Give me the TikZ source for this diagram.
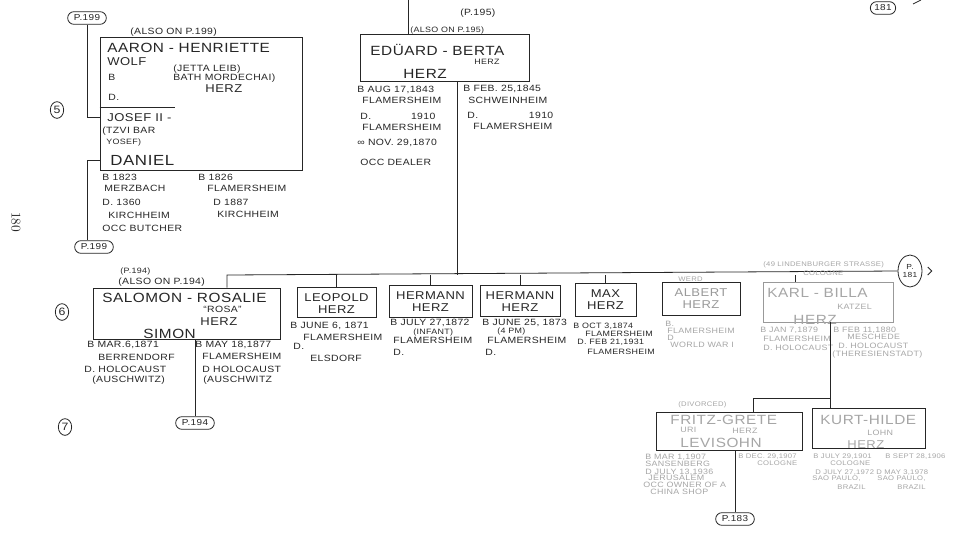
\documentclass[tikz,border=0pt]{standalone}
\usepackage{fontspec}
\newfontfamily\hand{Liberation Sans}[FakeStretch=1.15,LetterSpace=4]
\usetikzlibrary{fit,shapes.misc,shapes.geometric}
\tikzset{
  txt/.style={inner sep=0pt, anchor=west},
  bigg/.style={txt, font=\hand\fontsize{11}{12}\selectfont},
  big/.style={txt, font=\hand\fontsize{10}{11}\selectfont},
  nm/.style={txt, font=\hand\fontsize{8.5}{9}\selectfont},
  dat/.style={txt, font=\hand\fontsize{6.8}{7}\selectfont},
  sm/.style={txt, font=\hand\fontsize{5.8}{6}\selectfont},
  tny/.style={txt, font=\hand\fontsize{5}{5.5}\selectfont},
  famb/.style={draw, inner sep=0pt, line width=0.7pt},
  pref/.style={draw, rounded rectangle, inner xsep=2.5pt, inner ysep=1pt,
    minimum width=34pt, minimum height=9.5pt, font=\hand\fontsize{6.5}{7}\selectfont},
  gen/.style={draw, ellipse, inner sep=0pt, minimum width=10pt,
    minimum height=12.5pt, font=\hand\fontsize{8}{8}\selectfont},
  faint/.style={gray!70},
}
\begin{document}
\begin{tikzpicture}[x=0.75pt, y=-0.75pt, line width=0.6pt, color=black!85]
  \fill[white] (0,0) rectangle (967,533);
  \useasboundingbox (0,0) rectangle (967,533);
  % page number and generations
  \node[font=\fontsize{10}{10}\selectfont, rotate=-90] (pgno) at (16,222) {180};
  \foreach \g/\x/\y in {5/57/110, 6/62/312, 7/65/427}
    \node[gen] (gen\g) at (\x,\y) {\g};

  % generation 5: Aaron - Henriette, Josef II - Daniel
  \node[famb, fit={(100,37) (302,170)}] (aaron) {};
  \coordinate (josl) at (175,107);
  \draw (aaron.west |- josl) -- (josl);
  \node[pref] (p199a) at (87,18) {P.199};
  \node[pref] (p199b) at (94,247) {P.199};
  \coordinate (josj) at (100,117);
  \coordinate (danj) at (100,160);
  \draw (p199a.south) |- (josj);
  \draw (danj) -| (p199b.north -| p199a.south);
  \foreach \x/\y/\s/\t [count=\i] in {130/32/dat/{(ALSO ON P.199)},
      107/48/big/{AARON - HENRIETTE}, 107/62/nm/WOLF, 173/69/dat/{(JETTA LEIB)},
      108/77/dat/B, 173/78/dat/{BATH MORDECHAI)}, 205/89/nm/HERZ, 108/97/dat/D.,
      107/118/nm/{JOSEF II -}, 102/131/dat/{(TZVI BAR}, 106/142/sm/{YOSEF)},
      110/160/bigg/DANIEL,
      102/177/dat/{B 1823}, 104/188/dat/MERZBACH, 102/202/dat/{D. 1360},
      108/215/dat/KIRCHHEIM, 102/228/dat/{OCC BUTCHER},
      198/177/dat/{B 1826}, 207/188/dat/FLAMERSHEIM, 213/202/dat/{D 1887},
      217/214/dat/KIRCHHEIM}
    \node[\s] (aa\i) at (\x,\y) {\t};

  % Eduard - Berta
  \coordinate (topE) at (408,0);
  \node[famb, fit={(360,34) (529,81)}] (eduard) {};
  \draw (topE) -- (eduard.north -| topE);
  \foreach \x/\y/\s/\t [count=\i] in {460/13/dat/{(P.195)},
      410/30/sm/{(ALSO ON P.195)}, 370/50/big/{EDÜARD - BERTA},
      474/62/sm/HERZ, 403/74/big/HERZ,
      357/90/dat/{B AUG 17,1843}, 362/100/dat/FLAMERSHEIM,
      360/116/dat/{D.\hspace{4.4em}1910}, 362/127/dat/FLAMERSHEIM,
      357/143/dat/{∞ NOV. 29,1870}, 360/162/dat/{OCC DEALER},
      463/89/dat/{B FEB. 25,1845}, 468/100/dat/SCHWEINHEIM,
      467/115/dat/{D.\hspace{5.6em}1910}, 473/126/dat/FLAMERSHEIM}
    \node[\s] (ed\i) at (\x,\y) {\t};

  % generation 6: siblings line
  \coordinate (sibE) at (457,275);
  \coordinate (sibL) at (227,275);
  \node[draw, ellipse, inner sep=0pt, minimum width=18pt, minimum height=24pt,
    align=center, font=\hand\fontsize{5.5}{6}\selectfont] (pnext) at (910,271) {P.\\181};
  \draw ([xshift=4pt,yshift=3pt]pnext.east) -- ([xshift=7pt]pnext.east)
    -- ([xshift=4pt,yshift=-3pt]pnext.east);
  \node[pref, minimum width=24pt] (p181) at (883,8) {181};
  \coordinate (nxa) at (913,4);
  \coordinate (nxb) at (921,0);
  \draw (nxa) -- (nxb);
  \draw (eduard.south -| sibE) -- (sibE);

  % Salomon - Rosalie
  \node[famb, fit={(93,288) (280,339)}] (salomon) {};
  \draw (salomon.north -| sibL) -- (sibL) -- (pnext.west);
  \node[pref] (p194b) at (195,423) {P.194};
  \draw (salomon.south -| p194b) -- (p194b.north);
  \foreach \x/\y/\s/\t [count=\i] in {120/271/sm/{(P.194)},
      118/282/dat/{(ALSO ON P.194)}, 102/298/big/{SALOMON - ROSALIE},
      203/309/dat/{“ROSA”}, 200/322/nm/HERZ, 143/334/big/SIMON,
      87/345/dat/{B MAR.6,1871}, 98/357/dat/BERRENDORF,
      84/369/dat/{D. HOLOCAUST}, 92/380/dat/{(AUSCHWITZ)},
      195/345/dat/{B MAY 18,1877}, 202/356/dat/FLAMERSHEIM,
      202/369/dat/{D HOLOCAUST}, 203/380/dat/{(AUSCHWITZ}}
    \node[\s] (sa\i) at (\x,\y) {\t};

  % single children
  \foreach \n/\a/\b/\c/\d/\t/\col in {leopold/297/287/376/317/LEOPOLD/black!85,
      herma/389/285/472/317/HERMANN/black!85, hermb/480/285/560/316/HERMANN/black!85,
      maxh/575/283/636/316/MAX/black!85, albert/662/282/740/315/ALBERT/gray!80} {
    \node[famb, fit={(\a,\b) (\c,\d)}] (\n) {};
    \node[nm, anchor=center, \col] (\n-a) at ([yshift=-8.3pt]\n.north) {\t};
    \node[nm, anchor=center, \col] (\n-b) at ([yshift=-17.5pt]\n.north) {HERZ};
  }
  \foreach \n in {leopold,herma,hermb,maxh}
    \draw (\n.north) -- (\n.north |- sibL);
  \foreach \x/\y/\s/\t [count=\i] in {290/326/dat/{B JUNE 6, 1871},
      303/337/dat/FLAMERSHEIM, 293/346/dat/D., 310/358/dat/ELSDORF,
      390/323/dat/{B JULY 27,1872}, 413/332/sm/{(INFANT)},
      393/340/dat/FLAMERSHEIM, 393/352/dat/D.,
      482/323/dat/{B JUNE 25, 1873}, 497/331/sm/{(4 PM)},
      487/340/dat/FLAMERSHEIM, 485/352/dat/D.,
      573/326/sm/{B OCT 3,1874}, 585/334/sm/FLAMERSHEIM,
      577/342/sm/{D. FEB 21,1931}, 587/352/sm/FLAMERSHEIM}
    \node[\s] (ch\i) at (\x,\y) {\t};
  \foreach \x/\y/\s/\t [count=\i] in {678/279/tny/WERD, 665/324/sm/B.,
      667/331/sm/FLAMERSHEIM, 667/338/sm/D, 670/345/sm/{WORLD WAR I}}
    \node[\s, faint] (al\i) at (\x,\y) {\t};

  % Karl - Billa
  \node[famb, fit={(763,282) (893,322)}, gray!80] (karl) {};
  \coordinate (karlup) at (795,275);
  \draw (karl.north -| karlup) -- (karlup);
  \foreach \x/\y/\s/\t [count=\i] in {763/265/tny/{(49 LINDENBURGER STRASSE)},
      803/273/tny/COLOGNE, 767/293/big/{KARL - BILLA}, 837/307/sm/KATZEL,
      793/320/big/HERZ,
      760/330/sm/{B JAN 7,1879}, 763/339/sm/FLAMERSHEIM, 763/348/sm/{D. HOLOCAUST},
      833/330/sm/{B FEB 11,1880}, 847/337/sm/MESCHEDE,
      838/346/sm/{D. HOLOCAUST}, 832/354/sm/{(THERESIENSTADT)}}
    \node[\s, faint] (ka\i) at (\x,\y) {\t};

  % generation 7: Fritz - Grete, Kurt - Hilde
  \coordinate (kk) at (830,398);
  \coordinate (fk) at (753,398);
  \node[famb, fit={(656,412) (802,450)}] (fritz) {};
  \node[famb, fit={(812,408) (925,448)}] (kurt) {};
  \draw (karl.south -| kk) -- (kurt.north -| kk);
  \draw (kk) -- (fk) -- (fritz.north -| fk);
  \node[pref] (p183) at (735,519) {P.183};
  \draw (fritz.south -| p183) -- (p183.north);
  \foreach \x/\y/\s/\t [count=\i] in {678/405/tny/{(DIVORCED)},
      670/420/big/{FRITZ-GRETE}, 680/430/sm/URI, 732/431/sm/HERZ,
      680/443/big/LEVISOHN,
      645/457/sm/{B MAR 1,1907}, 645/464/sm/SANSENBERG,
      645/472/sm/{D JULY 13,1936}, 648/478/sm/JERUSALEM,
      643/485/sm/{OCC OWNER OF A}, 650/492/sm/{CHINA SHOP},
      738/457/tny/{B DEC. 29,1907}, 757/463/tny/COLOGNE,
      820/420/big/{KURT-HILDE}, 867/433/sm/LOHN, 847/445/nm/HERZ,
      813/457/tny/{B JULY 29,1901}, 830/463/tny/COLOGNE,
      885/457/tny/{B SEPT 28,1906},
      815/473/tny/{D JULY 27,1972}, 812/479/tny/{SAO PAULO,}, 837/487/tny/BRAZIL,
      876/473/tny/{D MAY 3,1978}, 877/479/tny/{SAO PAULO,}, 897/487/tny/BRAZIL}
    \node[\s, faint] (fr\i) at (\x,\y) {\t};
\end{tikzpicture}
\end{document}
